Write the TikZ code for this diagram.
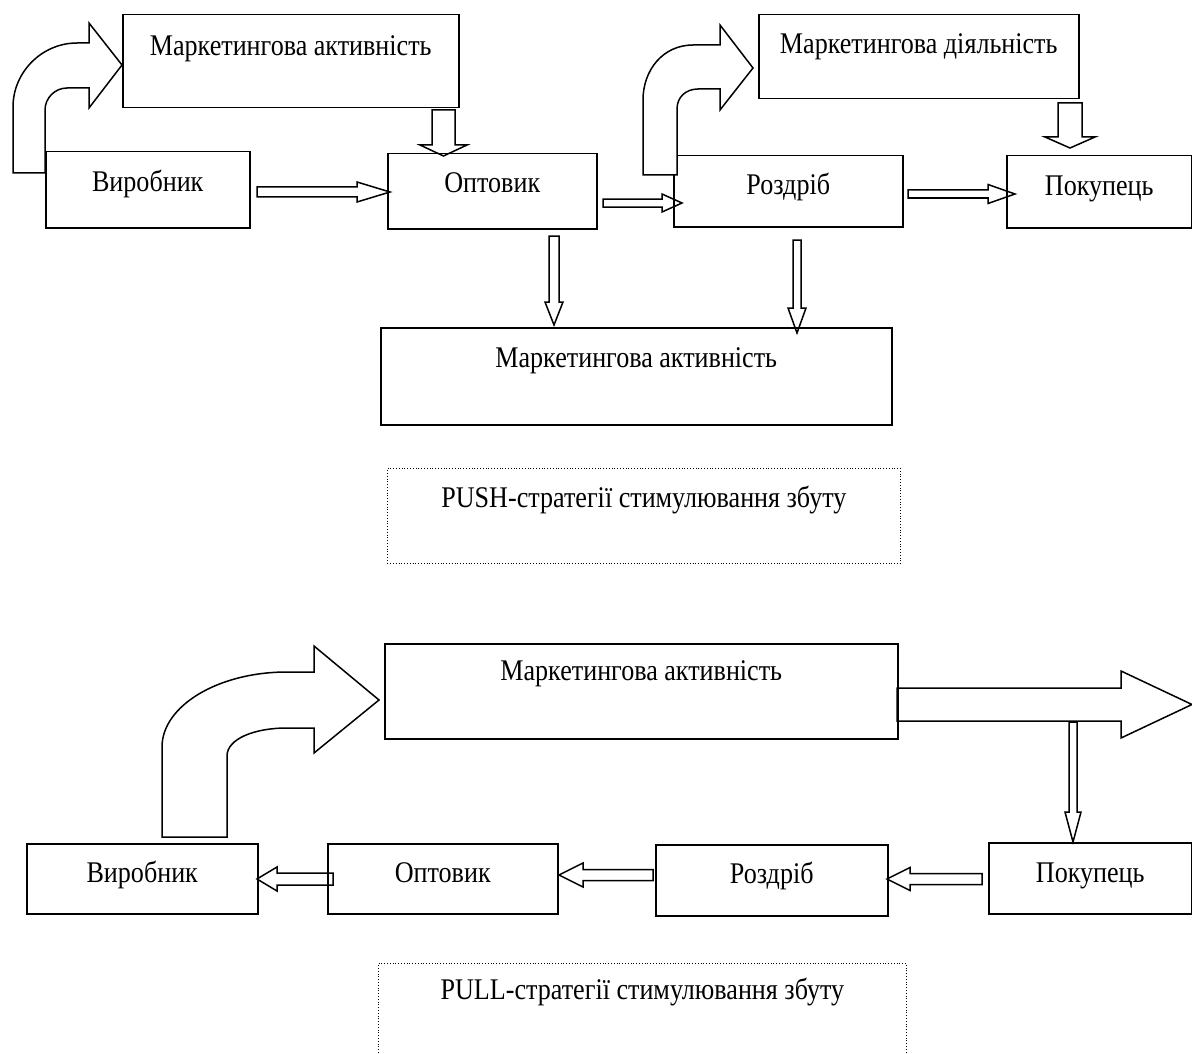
\documentclass[tikz,border=0pt]{standalone}
\usepackage{fontspec}
\setmainfont[FakeStretch=0.87]{Liberation Serif}
\usetikzlibrary{calc}
% block arrow: #1 tail, #2 tip, #3 shaft half width, #4 head half width, #5 head length
\newcommand\blkarrow[5]{%
  \coordinate (bh) at ($(#2)!#5!(#1)$);
  \draw[blk] ($(#1)!#3!90:(#2)$) -- ($(bh)!#3!90:(#2)$) -- ($(bh)!#4!90:(#2)$) -- (#2)
    -- ($(bh)!#4!-90:(#2)$) -- ($(bh)!#3!-90:(#2)$) -- ($(#1)!#3!-90:(#2)$) -- cycle;
}
\tikzset{
  bx/.style={draw, rectangle, inner sep=0pt, anchor=north west},
  dbx/.style={bx, dotted, line width=0.8pt},
  blk/.style={draw, fill=white, line join=miter},
  curv/.style={draw, fill=white, line join=miter}
}
\begin{document}
\begin{tikzpicture}[x=1pt, y=-1pt, line width=1.5pt, font=\fontsize{30}{34}\selectfont]
\useasboundingbox (0,0) rectangle (1192,1054);
% ---------- PUSH: straight connectors ----------
\coordinate (a1s) at (257,192); \coordinate (a1e) at (390,192);
\coordinate (a2s) at (603,203); \coordinate (a2e) at (682,203);
\coordinate (a3s) at (908,194); \coordinate (a3e) at (1015,194);
\coordinate (a4s) at (443.5,110); \coordinate (a4e) at (443.5,156);
\coordinate (a5s) at (1070,103); \coordinate (a5e) at (1070,148);
\coordinate (a6s) at (554,236); \coordinate (a6e) at (554,325);
\coordinate (a7s) at (797,240); \coordinate (a7e) at (797,333);
\blkarrow{a1s}{a1e}{5pt}{10pt}{33pt}
\blkarrow{a2s}{a2e}{4pt}{9pt}{20pt}
\blkarrow{a3s}{a3e}{4pt}{9.5pt}{27pt}
\blkarrow{a4s}{a4e}{11.5pt}{23.5pt}{11pt}
\blkarrow{a5s}{a5e}{12pt}{25pt}{11pt}
\blkarrow{a6s}{a6e}{5pt}{9pt}{23pt}
\blkarrow{a7s}{a7e}{4pt}{9pt}{25pt}
% ---------- PULL: straight connectors ----------
\coordinate (b1s) at (333,879); \coordinate (b1e) at (257,879);
\coordinate (b2s) at (653,875); \coordinate (b2e) at (559,875);
\coordinate (b3s) at (982,879); \coordinate (b3e) at (887,879);
\coordinate (b4s) at (897,704.5); \coordinate (b4e) at (1192,704.5);
\coordinate (b5s) at (1073,722); \coordinate (b5e) at (1073,842);
\blkarrow{b1s}{b1e}{6pt}{12pt}{20pt}
\blkarrow{b2s}{b2e}{5.5pt}{12pt}{24pt}
\blkarrow{b3s}{b3e}{5.5pt}{11.5pt}{23pt}
\blkarrow{b4s}{b4e}{16.5pt}{33.5pt}{71pt}
\blkarrow{b5s}{b5e}{4pt}{8pt}{30pt}
% ---------- PUSH boxes ----------
\node[bx, minimum width=336pt, text height=41pt, text depth=52pt] (mkA) at (122,14) {Маркетингова активність};
\node[bx, minimum width=204pt, text height=40pt, text depth=36pt] (vyrA) at (45,151) {Виробник};
\node[bx, minimum width=209pt, text height=39pt, text depth=36pt] (optA) at (387,153) {Оптовик};
\node[bx, minimum width=229pt, text height=39pt, text depth=32pt] (rozA) at (673,155) {Роздріб};
\node[bx, minimum width=320pt, text height=39pt, text depth=45pt] (mkD) at (758,14) {Маркетингова діяльність};
\node[bx, minimum width=185pt, text height=40pt, text depth=32pt] (pokA) at (1006,155) {Покупець};
\node[bx, minimum width=511pt, text height=40pt, text depth=57pt] (mkB) at (380,327) {Маркетингова активність};
\node[dbx, minimum width=513pt, text height=39pt, text depth=56pt] (push) at (387,468) {PUSH-стратегії стимулювання збуту};
% ---------- PULL boxes ----------
\node[bx, minimum width=513pt, text height=37pt, text depth=58pt] (mkC) at (384,643) {Маркетингова активність};
\node[bx, minimum width=231pt, text height=39pt, text depth=31pt] (vyrB) at (26,843) {Виробник};
\node[bx, minimum width=230pt, text height=39pt, text depth=31pt] (optB) at (327,843) {Оптовик};
\node[bx, minimum width=232pt, text height=39pt, text depth=32pt] (rozB) at (655,844) {Роздріб};
\node[bx, minimum width=203pt, text height=40pt, text depth=31pt] (pokB) at (988,842) {Покупець};
\node[dbx, minimum width=528pt, text height=36pt, text depth=71pt] (pull) at (378,963) {PULL-стратегії стимулювання збуту};
% ---------- curved arrows ----------
\draw[curv] (13,173) -- (13,107) .. controls (13,72) and (42,43) .. (77,43) -- (89,43) -- (89,23) -- (122,65)
  -- (89,108) -- (89,88) -- (67,88) .. controls (55,88) and (45,98) .. (45,110) -- (45,173) -- cycle;
\draw[curv] (643,175) -- (643,100) .. controls (643,70) and (663,45) .. (693,45) -- (720,45) -- (720,25) -- (753,68)
  -- (720,110) -- (720,89) -- (698,89) .. controls (686,89) and (677,97) .. (677,109) -- (677,175) -- cycle;
\draw[curv] (162,837) -- (162,747) .. controls (162,706) and (218,672) .. (287,672) -- (314,672) -- (314,646) -- (379,700)
  -- (314,753) -- (314,728) -- (287,728) .. controls (254,728) and (227,739) .. (227,756) -- (227,837) -- cycle;
\end{tikzpicture}
\end{document}
